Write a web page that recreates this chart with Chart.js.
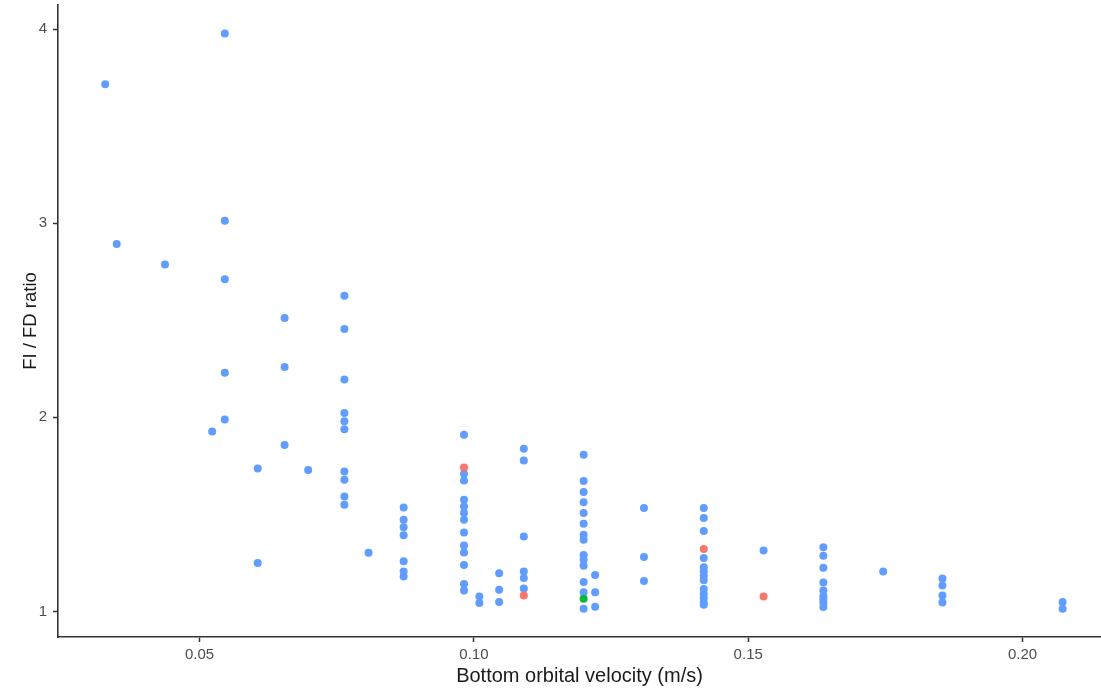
<!DOCTYPE html>
<html>
<head>
<meta charset="utf-8">
<script src="https://cdn.jsdelivr.net/npm/chart.js@4"></script>
<style>
  html, body { margin: 0; padding: 0; background: #fff; }
  #wrap { width: 1101px; height: 693px; }
</style>
</head>
<body>
<div id="wrap"><canvas id="myChart" width="1101" height="693"></canvas></div>
<script>
// bottom orbital velocity (m/s) and FI/FD ratio, one pair of arrays per colour group
const blueX = [
  0.0328, 0.0349, 0.0437, 0.0523,
  0.0546, 0.0546, 0.0546, 0.0546, 0.0546,
  0.0606, 0.0606,
  0.0655, 0.0655, 0.0655,
  0.0698,
  0.0764, 0.0764, 0.0764, 0.0764, 0.0764, 0.0764, 0.0764, 0.0764, 0.0764, 0.0764,
  0.0808,
  0.0872, 0.0872, 0.0872, 0.0872, 0.0872, 0.0872, 0.0872,
  0.0982, 0.0982, 0.0982, 0.0982, 0.0982, 0.0982, 0.0982, 0.0982, 0.0982, 0.0982, 0.0982, 0.0982, 0.0982,
  0.1010, 0.1010,
  0.1046, 0.1046, 0.1046,
  0.1091, 0.1091, 0.1091, 0.1091, 0.1091, 0.1091,
  0.1200, 0.1200, 0.1200, 0.1200, 0.1200, 0.1200, 0.1200, 0.1200, 0.1200, 0.1200, 0.1200, 0.1200, 0.1200, 0.1200,
  0.1221, 0.1221, 0.1221,
  0.1310, 0.1310, 0.1310,
  0.1419, 0.1419, 0.1419, 0.1419, 0.1419, 0.1419, 0.1419, 0.1419, 0.1419, 0.1419, 0.1419, 0.1419, 0.1419,
  0.1528,
  0.1637, 0.1637, 0.1637, 0.1637, 0.1637, 0.1637, 0.1637, 0.1637, 0.1637,
  0.1746,
  0.1854, 0.1854, 0.1854, 0.1854,
  0.2073, 0.2073
];
const blueY = [
  3.717, 2.893, 2.788, 1.927,
  3.978, 3.013, 2.712, 2.230, 1.989,
  1.737, 1.249,
  2.512, 2.259, 1.857,
  1.728,
  2.626, 2.455, 2.195, 2.022, 1.980, 1.938, 1.721, 1.679, 1.592, 1.550,
  1.302,
  1.536, 1.472, 1.433, 1.392, 1.258, 1.206, 1.180,
  1.910, 1.709, 1.675, 1.575, 1.541, 1.507, 1.472, 1.407, 1.340, 1.304, 1.239, 1.141, 1.107,
  1.077, 1.043,
  1.196, 1.112, 1.048,
  1.838, 1.778, 1.386, 1.205, 1.172, 1.118,
  1.807, 1.672, 1.615, 1.562, 1.507, 1.452, 1.395, 1.369, 1.291, 1.266, 1.235, 1.151, 1.098, 1.014,
  1.188, 1.098, 1.024,
  1.533, 1.280, 1.157,
  1.533, 1.481, 1.414, 1.275, 1.228, 1.206, 1.184, 1.160, 1.115, 1.091, 1.069, 1.046, 1.034,
  1.314,
  1.330, 1.287, 1.225, 1.149, 1.108, 1.078, 1.062, 1.046, 1.023,
  1.206,
  1.170, 1.134, 1.082, 1.046,
  1.048, 1.014
];
const redX = [0.0982, 0.1091, 0.1419, 0.1528];
const redY = [1.742, 1.082, 1.321, 1.077];
const greenX = [0.1200];
const greenY = [1.065];

const xTicks = [0.05, 0.10, 0.15, 0.20];
const yTicks = [1, 2, 3, 4];

function toPoints(xs, ys) {
  return xs.map((x, i) => ({ x: x, y: ys[i] }));
}

const ctx = document.getElementById("myChart").getContext("2d");
const fontFamily = "'Liberation Sans', Arial, Helvetica, sans-serif";

function dotSet(xs, ys, color) {
  return {
    data: toPoints(xs, ys),
    backgroundColor: color,
    borderWidth: 0,
    pointRadius: 4,
    pointHoverRadius: 4,
  };
}

const myChart = new Chart(ctx, {
  type: "scatter",
  data: {
    datasets: [
      dotSet(greenX, greenY, "#00BA38"),
      dotSet(redX, redY, "#F8766D"),
      dotSet(blueX, blueY, "#619CFF"),
    ],
  },
  options: {
    responsive: false,
    animation: false,
    layout: { autoPadding: false, padding: { top: 5, right: 0, bottom: 0, left: 0 } },
    plugins: {
      legend: { display: false },
      tooltip: { enabled: false },
    },
    scales: {
      x: {
        type: "linear",
        min: 0.0242,
        max: 0.2143,
        afterBuildTicks: (scale) => { scale.ticks = xTicks.map(v => ({ value: v })); },
        afterFit: (scale) => {
          scale.height = 56;
          scale.paddingLeft = 0;
          scale.paddingRight = 0;
        },
        ticks: {
          color: "#4D4D4D",
          font: { family: fontFamily, size: 15 },
          padding: 4,
          maxRotation: 0,
          callback: (v) => Number(v).toFixed(2),
        },
        grid: { drawOnChartArea: false, tickLength: 5, color: "#333333", tickWidth: 1.5 },
        border: { display: true, color: "#333333", width: 1.6 },
        title: {
          display: true,
          text: "Bottom orbital velocity (m/s)",
          color: "#1a1a1a",
          font: { family: fontFamily, size: 20 },
          padding: { top: 0, bottom: 5 },
        },
      },
      y: {
        type: "linear",
        min: 0.868,
        max: 4.125,
        afterBuildTicks: (scale) => { scale.ticks = yTicks.map(v => ({ value: v })); },
        afterFit: (scale) => {
          scale.width = 58;
          scale.paddingTop = 0;
          scale.paddingBottom = 0;
        },
        ticks: {
          color: "#4D4D4D",
          font: { family: fontFamily, size: 15 },
          padding: 6,
          callback: (v) => String(v),
        },
        grid: { drawOnChartArea: false, tickLength: 5, color: "#333333", tickWidth: 1.5 },
        border: { display: true, color: "#333333", width: 1.6 },
        title: {
          display: true,
          text: "FI / FD ratio",
          color: "#1a1a1a",
          font: { family: fontFamily, size: 18.5 },
          padding: { top: 20, bottom: 0 },
        },
      },
    },
  },
});
</script>
</body>
</html>
